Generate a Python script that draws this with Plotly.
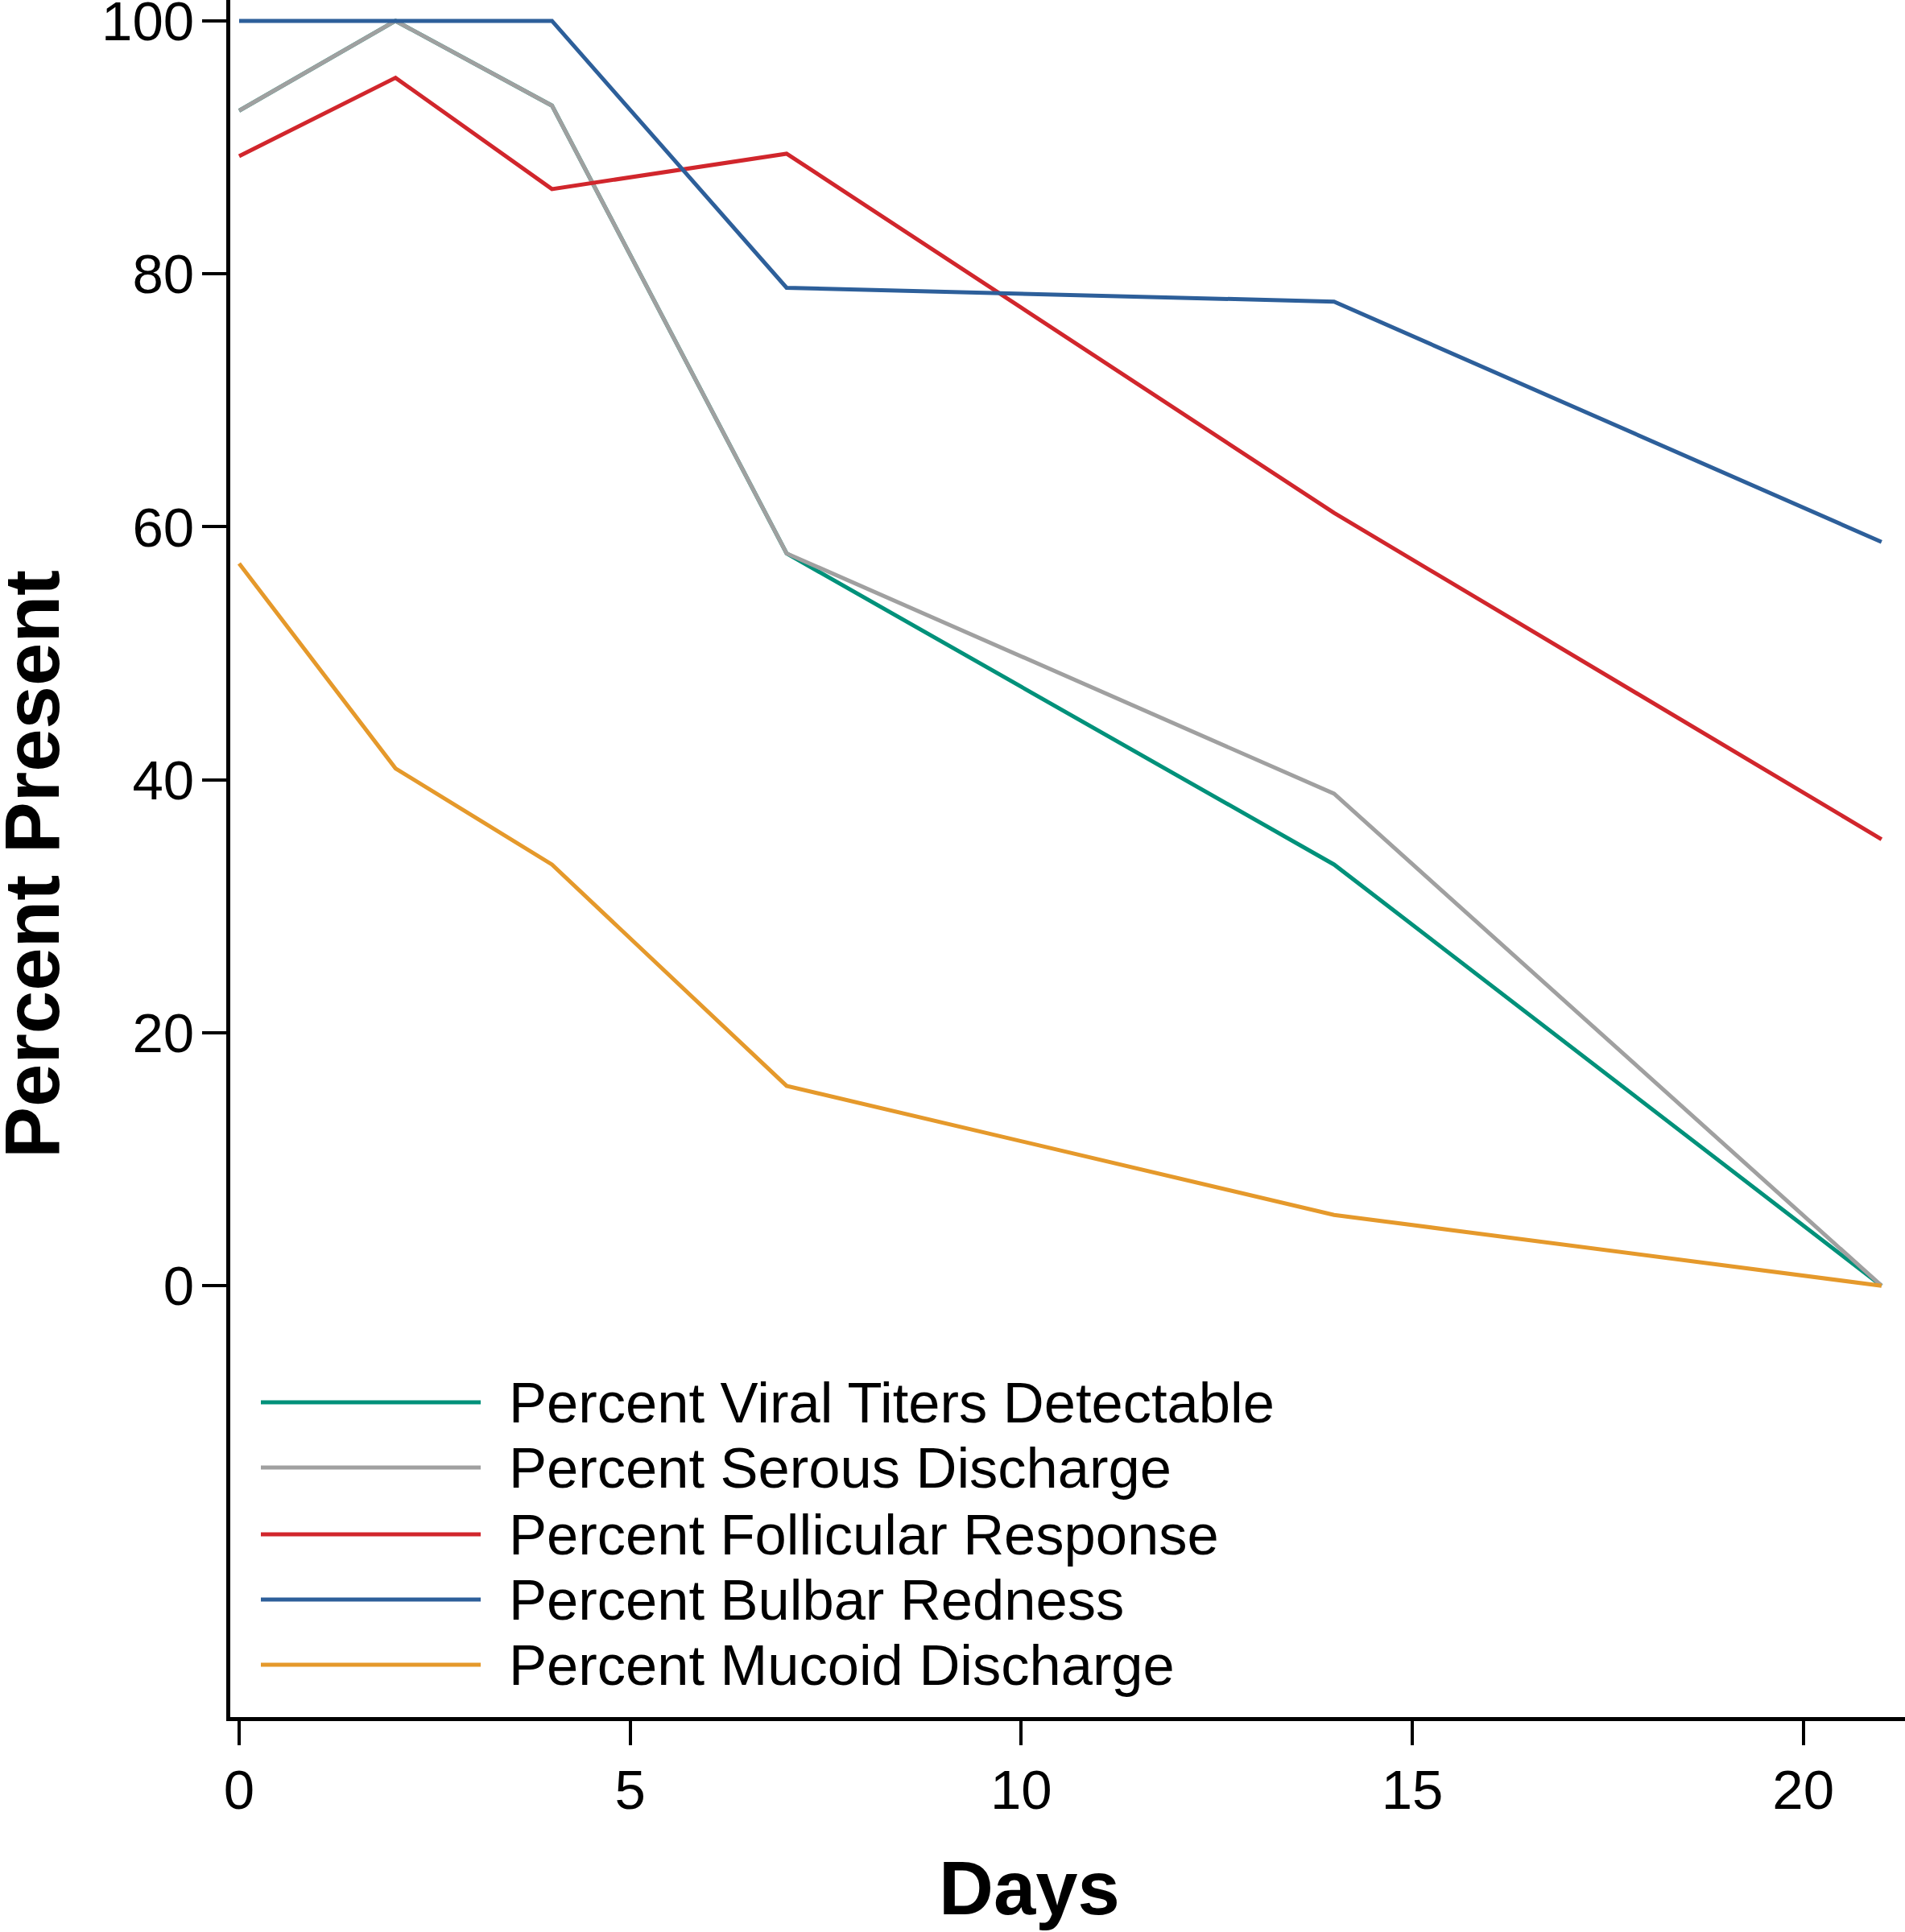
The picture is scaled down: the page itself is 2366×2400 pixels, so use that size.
import plotly.graph_objects as go

days = [0, 2, 4, 7, 14, 21]
series_names = [
    "Percent Viral Titers Detectable",
    "Percent Serous Discharge",
    "Percent Follicular Response",
    "Percent Bulbar Redness",
    "Percent Mucoid Discharge",
]
viral_titers = [92.9, 100, 93.3, 57.9, 33.3, 0]
serous = [92.9, 100, 93.3, 57.9, 38.9, 0]
follicular = [89.3, 95.5, 86.7, 89.5, 61.1, 35.3]
bulbar = [100, 100, 100, 78.9, 77.8, 58.8]
mucoid = [57.1, 40.9, 33.3, 15.8, 5.6, 0]
series_values = [viral_titers, serous, follicular, bulbar, mucoid]
colors = ["#00917A", "#A0A0A0", "#D1262C", "#2D5F9A", "#E5992B"]

x_ticks = [0, 5, 10, 15, 20]
y_ticks = [0, 20, 40, 60, 80, 100]

FONT = "Liberation Sans, Arial, sans-serif"

fig = go.Figure()
for name, vals, col in zip(series_names, series_values, colors):
    fig.add_trace(go.Scatter(x=days, y=vals, mode="lines", name=name,
                             line=dict(color=col, width=5),
                             showlegend=False, cliponaxis=False))

W, H = 2366, 2400
ml, mr, mt = 286, 0, 0
mb = H - 2133
pw = W - ml - mr
ph = H - mt - mb

fig.update_layout(
    width=W, height=H,
    margin=dict(l=ml, r=mr, t=mt, b=mb, pad=0, autoexpand=False),
    plot_bgcolor="white", paper_bgcolor="white",
    font=dict(family=FONT, color="black"),
    xaxis=dict(range=[-0.113, 21.30], tickvals=x_ticks, ticks="outside",
               ticklen=30, tickwidth=4, tickcolor="black",
               showline=True, linewidth=5, linecolor="black",
               showgrid=False, zeroline=False, automargin=False,
               tickfont=dict(size=69, family=FONT), ticklabelstandoff=-4),
    yaxis=dict(range=[-34.1, 101.65], tickvals=y_ticks, ticks="outside",
               ticklen=30, tickwidth=4, tickcolor="black",
               showline=True, linewidth=5, linecolor="black",
               showgrid=False, zeroline=False, ticklabeloverflow="allow",
               automargin=False,
               tickfont=dict(size=69, family=FONT), ticklabelstandoff=-4),
)

def px_x(sx):
    return (sx - ml) / pw

def px_y(sy):
    return (ph - (sy - mt)) / ph

# Custom legend (long line samples) built from the series lists
row_px = [1742, 1823, 1906, 1987, 2068]
for name, col, sy in zip(series_names, colors, row_px):
    yp = px_y(sy)
    fig.add_shape(type="line", xref="paper", yref="paper",
                  x0=px_x(324), x1=px_x(597), y0=yp, y1=yp,
                  line=dict(color=col, width=5))
    fig.add_annotation(xref="paper", yref="paper", x=px_x(630), y=yp,
                       text=name, showarrow=False, xanchor="left", yanchor="middle",
                       font=dict(size=70.5, family=FONT, color="black"))

# Axis titles
fig.add_annotation(xref="paper", yref="paper", x=px_x(1278), y=px_y(2345),
                   text="<b>Days</b>", showarrow=False,
                   xanchor="center", yanchor="middle",
                   font=dict(size=94, family=FONT, color="black"))
fig.add_annotation(xref="paper", yref="paper", x=px_x(40), y=px_y(1074),
                   text="<b>Percent Present</b>", showarrow=False, textangle=-90,
                   xanchor="center", yanchor="middle",
                   font=dict(size=96, family=FONT, color="black"))

fig.write_html("out.html",
               config={"displayModeBar": False},
               post_script="document.body.style.margin='0px';"
                           "document.body.style.overflow='hidden';")
